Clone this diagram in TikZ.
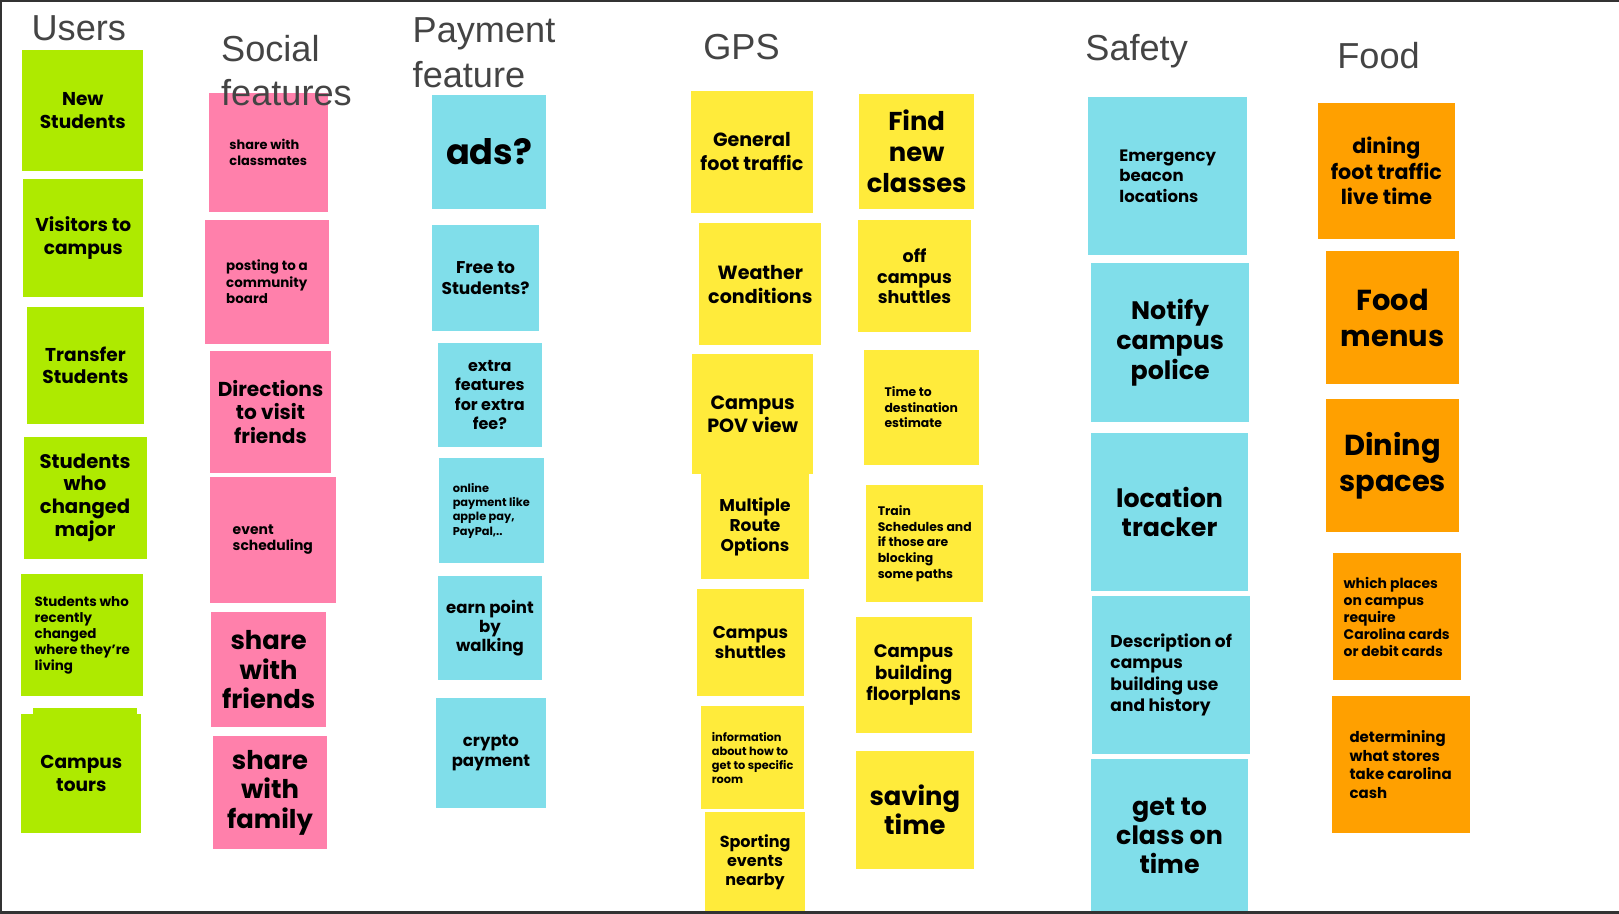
\documentclass[tikz,border=0pt]{standalone}
\usepackage{fontspec}
\setmainfont{Poppins}
\newfontfamily\headfont{Liberation Sans}
\usepackage{tikz}
\usetikzlibrary{positioning}
\definecolor{usergreen}{RGB}{174,234,0}
\definecolor{socialpink}{RGB}{255,128,171}
\definecolor{paycyan}{RGB}{128,222,234}
\definecolor{gpsyellow}{RGB}{255,235,59}
\definecolor{foodorange}{RGB}{255,160,0}
\definecolor{headgray}{RGB}{68,68,68}
\definecolor{framegray}{RGB}{51,51,51}
\newcommand\sz[2]{\fontsize{#1}{#2}\selectfont\bfseries}
\tikzstyle{note}=[rectangle,inner sep=0pt,align=center,text=black]
\tikzstyle{user}=[note,fill=usergreen]
\tikzstyle{social}=[note,fill=socialpink]
\tikzstyle{pay}=[note,fill=paycyan]
\tikzstyle{gps}=[note,fill=gpsyellow]
\tikzstyle{safe}=[note,fill=paycyan]
\tikzstyle{food}=[note,fill=foodorange]
\tikzstyle{head}=[inner sep=0pt,anchor=base west,align=left,text=headgray,font={\headfont\fontsize{35}{43}\selectfont}]

\begin{document}
\begin{tikzpicture}[x=1pt,y=-1pt]
	\useasboundingbox (0,0) rectangle (1568,885);
	\fill[white] (0,0) rectangle (1568,885);
	% Users
	\node[user,minimum width=117,minimum height=117,font={\sz{18}{21.6}}] (newstud) at (80.2,107) {New\\Students};
	\node[user,minimum width=116,minimum height=115,font={\sz{18}{21.6}}] (visit) at (80.7,230.4) {Visitors to\\campus};
	\node[user,minimum width=114,minimum height=114,font={\sz{18}{21.6}}] (transfer) at (82.8,354) {Transfer\\Students};
	\node[user,minimum width=119,minimum height=118,font={\sz{19}{22}}] (major) at (82.4,482) {Students\\who\\changed\\major};
	\node[user,minimum width=118,minimum height=118,font={\sz{13}{15.5}},align=left] (living) at (79.7,615) {Students who\\recently\\changed\\where they're\\living};
	\fill[usergreen] (32,686) rectangle (133,700);
	\node[user,minimum width=116,minimum height=115.5,font={\sz{18}{21.6}}] (tours) at (78.8,749) {Campus\\tours};
	% Social features
	\node[social,minimum width=115.6,minimum height=115.2,font={\sz{12.5}{15.5}},align=left] (classm) at (259.8,147.4) {share with\\classmates};
	\node[social,minimum width=120,minimum height=120,font={\sz{13}{16}},align=left] (board) at (258.6,273) {posting to a\\community\\board};
	\node[social,minimum width=118,minimum height=118,font={\sz{19.5}{22.6}}] (visitfr) at (262,399) {Directions\\to visit\\friends};
	\node[social,minimum width=122.5,minimum height=122,font={\sz{13.5}{15.5}},align=left] (event) at (264.2,523) {event\\scheduling};
	\node[social,minimum width=111.3,minimum height=111,font={\sz{25}{29}}] (friends) at (260.2,648.5) {share\\with\\friends};
	\node[social,minimum width=111,minimum height=109,font={\sz{25}{28.5}}] (family) at (261.5,767.5) {share\\with\\family};
	% Payment feature
	\node[pay,minimum width=110.4,minimum height=110.3,font={\sz{34}{40}}] (ads) at (473.8,146.8) {ads?};
	\node[pay,minimum width=103.4,minimum height=103,font={\sz{16.5}{20}}] (free) at (470.3,269.5) {Free to\\Students?};
	\node[pay,minimum width=100.7,minimum height=100,font={\sz{15.5}{18.7}}] (fee) at (474.4,382.6) {extra\\features\\for extra\\fee?};
	\node[pay,minimum width=101.5,minimum height=101,font={\sz{11}{13.9}},align=left] (online) at (475.8,494.5) {online\\payment like\\apple pay,\\PayPal,..};
	\node[pay,minimum width=101,minimum height=101,font={\sz{16}{18.7}}] (walk) at (474.5,608.5) {earn point\\by\\walking};
	\node[pay,minimum width=107,minimum height=106.7,font={\sz{16}{18.7}}] (crypto) at (475.5,729.3) {crypto\\payment};
	% GPS
	\node[gps,minimum width=118.4,minimum height=118,font={\sz{18.5}{23}}] (traffic) at (728.2,147) {General\\foot traffic};
	\node[gps,minimum width=118.1,minimum height=118.4,font={\sz{18.5}{23}}] (weather) at (736.4,275.2) {Weather\\conditions};
	\node[gps,minimum width=116.9,minimum height=116,font={\sz{18.5}{22}}] (pov) at (729,401) {Campus\\POV view};
	\node[gps,minimum width=104,minimum height=101.7,font={\sz{16.5}{19.4}}] (route) at (731.2,509.9) {Multiple\\Route\\Options};
	\node[gps,minimum width=103.7,minimum height=103.3,font={\sz{16.5}{20}}] (shuttle) at (726.9,622.2) {Campus\\shuttles};
	\node[gps,minimum width=99.7,minimum height=99.6,font={\sz{11}{13.6}},align=left] (room) at (728.9,733.8) {information\\about how to\\get to specific\\room};
	\node[gps,minimum width=97,minimum height=96.6,font={\sz{15.5}{18.4}}] (sport) at (731.3,834.7) {Sporting\\events\\nearby};
	\node[gps,minimum width=111.6,minimum height=111.3,font={\sz{25}{29.7}}] (classes) at (887.8,146.4) {Find\\new\\classes};
	\node[gps,minimum width=109.4,minimum height=109,font={\sz{17}{20.3}}] (offcamp) at (885.7,267.5) {off\\campus\\shuttles};
	\node[gps,minimum width=111.3,minimum height=111,font={\sz{12}{15}},align=left] (dest) at (892.2,394.5) {Time to\\destination\\estimate};
	\node[gps,minimum width=113.7,minimum height=113.3,font={\sz{12}{15.2}},align=left] (train) at (895.6,526.4) {Train\\Schedules and\\if those are\\blocking\\some paths};
	\node[gps,minimum width=112.3,minimum height=112,font={\sz{17.5}{21}}] (floor) at (884.9,654) {Campus\\building\\floorplans};
	\node[gps,minimum width=114.6,minimum height=113.9,font={\sz{25}{28.4}}] (saving) at (886,784.4) {saving\\time};
	% Safety
	\node[safe,minimum width=153.7,minimum height=153,font={\sz{16}{20}},align=left] (beacon) at (1130.9,170.5) {Emergency\\beacon\\locations};
	\node[safe,minimum width=153.4,minimum height=153.4,font={\sz{24.5}{29}}] (police) at (1133.3,331.7) {Notify\\campus\\police};
	\node[safe,minimum width=152.1,minimum height=152.4,font={\sz{24.5}{28.4}}] (tracker) at (1132.7,495.8) {location\\tracker};
	\node[safe,minimum width=153.4,minimum height=153,font={\sz{16.5}{20.7}},align=left] (history) at (1134.3,653.5) {Description of\\campus\\building use\\and history};
	\node[safe,minimum width=152.1,minimum height=149,font={\sz{24.5}{28.4}}] (ontime) at (1132.7,809.5) {get to\\class on\\time};
	% Food
	\node[food,minimum width=132.3,minimum height=132.4,font={\sz{20}{24.8}}] (dining) at (1342.7,165.6) {dining\\foot traffic\\live time};
	\node[food,minimum width=129.1,minimum height=129,font={\sz{28}{35}}] (menus) at (1348.8,307.5) {Food\\menus};
	\node[food,minimum width=129.1,minimum height=129.2,font={\sz{28}{35}}] (spaces) at (1348.8,451) {Dining\\spaces};
	\node[food,minimum width=124,minimum height=123,font={\sz{13.5}{16.5}},align=left] (cards) at (1352.7,597.5) {which places\\on campus\\require\\Carolina cards\\or debit cards};
	\node[food,minimum width=133.6,minimum height=133,font={\sz{14.5}{17.8}},align=left] (cash) at (1356.5,740.5) {determining\\what stores\\take carolina\\cash};
	% headings (base = last line)
	\node[head] (users) at (30.4,39.4) {Users};
	\node[head] (socialh) at (214,102.6) {Social\\features};
	\node[head] (payh) at (399.5,84.6) {Payment\\feature};
	\node[head] (gpsh) at (681,57.5) {GPS};
	\node[head] (safeh) at (1051,59) {Safety};
	\node[head] (foodh) at (1295,66) {Food};
	% frame
	\fill[framegray] (0,0) rectangle (2,885);
	\fill[framegray] (0,0) rectangle (1568,1.5);
	\fill[framegray] (0,882.5) rectangle (1568,885);
\end{tikzpicture}
\end{document}
